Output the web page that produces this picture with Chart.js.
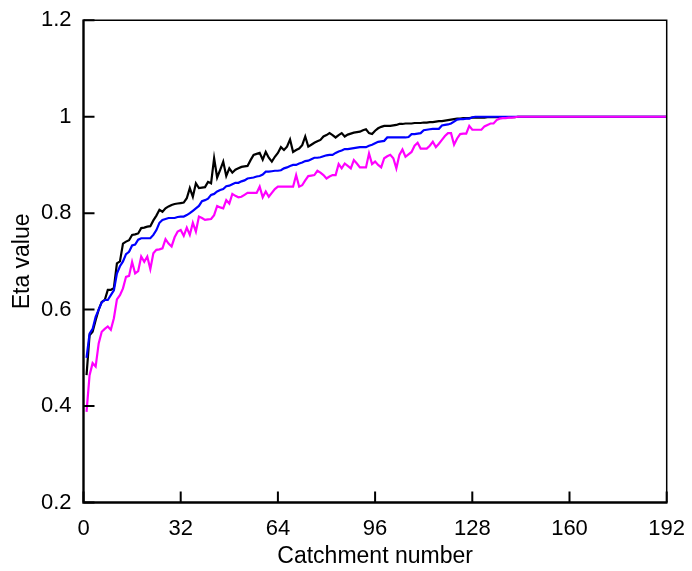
<!DOCTYPE html>
<html>
<head>
<meta charset="utf-8">
<script src="https://cdn.jsdelivr.net/npm/chart.js@4"></script>
<style>
html,body{margin:0;padding:0;background:#fff;}
#c{display:block;}
</style>
</head>
<body>
<canvas id="c" width="692" height="571"></canvas>
<script>
const xTicks = [0, 32, 64, 96, 128, 160, 192];
const yTicks = [0.2, 0.4, 0.6, 0.8, 1, 1.2];
const yTickLabels = ["0.2", "0.4", "0.6", "0.8", "1", "1.2"];
const xTitle = "Catchment number";
const yTitle = "Eta value";

const seriesBlack = [
0.464,0.547,0.554,0.578,0.600,0.616,0.620,0.641,0.641,0.645,
0.696,0.700,0.737,0.741,0.744,0.755,0.756,0.758,0.769,0.770,
0.772,0.773,0.785,0.795,0.807,0.803,0.810,0.814,0.817,0.819,
0.820,0.821,0.822,0.831,0.852,0.834,0.862,0.852,0.853,0.854,
0.865,0.862,0.914,0.874,0.890,0.907,0.877,0.893,0.884,0.890,
0.893,0.896,0.897,0.898,0.910,0.921,0.923,0.925,0.911,0.927,
0.915,0.907,0.917,0.925,0.937,0.931,0.938,0.953,0.927,0.931,
0.934,0.941,0.959,0.938,0.942,0.946,0.949,0.952,0.959,0.962,
0.966,0.962,0.957,0.962,0.966,0.959,0.963,0.965,0.967,0.968,
0.969,0.972,0.974,0.966,0.964,0.971,0.976,0.979,0.981,0.981,
0.981,0.982,0.983,0.985,0.985,0.986,0.986,0.986,0.987,0.987,
0.987,0.988,0.988,0.989,0.989,0.990,0.991,0.991,0.992,0.993,
0.994,0.995,0.996,0.996,0.997,0.997,0.997,0.998,0.998,0.998,
0.998,0.998,0.999,0.999,0.999,0.999,0.999,0.999,0.999,0.999,
0.999,0.999,
1,1,1,1,1,1,1,1,1,1,
1,1,1,1,1,1,1,1,1,1,
1,1,1,1,1,1,1,1,1,1,
1,1,1,1,1,1,1,1,1,1,
1,1,1,1,1,1,1,1,1,1
];

const seriesBlue = [
0.500,0.550,0.560,0.585,0.600,0.615,0.620,0.620,0.630,0.640,
0.675,0.690,0.700,0.715,0.720,0.733,0.735,0.745,0.748,0.748,
0.748,0.748,0.755,0.765,0.780,0.786,0.788,0.790,0.790,0.790,
0.792,0.793,0.793,0.796,0.800,0.805,0.810,0.815,0.825,0.827,
0.830,0.838,0.840,0.845,0.848,0.850,0.856,0.857,0.860,0.863,
0.863,0.866,0.868,0.872,0.873,0.874,0.876,0.877,0.880,0.886,
0.886,0.887,0.888,0.888,0.889,0.893,0.895,0.898,0.900,0.900,
0.903,0.905,0.908,0.909,0.912,0.915,0.915,0.916,0.918,0.920,
0.921,0.921,0.925,0.928,0.930,0.933,0.933,0.934,0.935,0.936,
0.937,0.937,0.937,0.940,0.942,0.945,0.948,0.949,0.950,0.957,
0.957,0.957,0.957,0.957,0.957,0.957,0.958,0.964,0.964,0.965,
0.966,0.972,0.973,0.974,0.975,0.975,0.975,0.982,0.983,0.984,
0.986,0.990,0.994,0.995,0.995,0.996,0.996,0.999,1,1,
1,1,1,1,1,1,1,1,1,1,
1,1,1,1,1,1,1,1,1,1,
1,1,1,1,1,1,1,1,1,1,
1,1,1,1,1,1,1,1,1,1,
1,1,1,1,1,1,1,1,1,1,
1,1,1,1,1,1,1,1,1,1,
1,1
];

const seriesMagenta = [
0.388,0.464,0.489,0.482,0.530,0.554,0.560,0.565,0.558,0.582,
0.621,0.630,0.644,0.668,0.670,0.699,0.675,0.680,0.710,0.699,
0.710,0.684,0.717,0.724,0.725,0.727,0.746,0.737,0.731,0.750,
0.762,0.765,0.753,0.770,0.755,0.780,0.762,0.793,0.790,0.786,
0.787,0.788,0.796,0.815,0.812,0.810,0.827,0.820,0.840,0.836,
0.833,0.834,0.838,0.842,0.842,0.842,0.842,0.855,0.833,0.845,
0.834,0.842,0.850,0.855,0.855,0.855,0.855,0.855,0.855,0.879,
0.855,0.858,0.868,0.877,0.878,0.879,0.888,0.884,0.879,0.872,
0.876,0.879,0.879,0.902,0.893,0.903,0.898,0.893,0.910,0.903,
0.895,0.895,0.895,0.924,0.902,0.907,0.900,0.895,0.914,0.918,
0.921,0.914,0.893,0.921,0.932,0.917,0.922,0.927,0.940,0.946,
0.934,0.934,0.934,0.940,0.948,0.937,0.944,0.952,0.960,0.966,
0.966,0.942,0.955,0.964,0.965,0.965,0.981,0.973,0.973,0.973,
0.973,0.980,0.983,0.986,0.986,0.993,0.996,0.997,0.997,0.998,
0.998,0.999,
1,1,1,1,1,1,1,1,1,1,
1,1,1,1,1,1,1,1,1,1,
1,1,1,1,1,1,1,1,1,1,
1,1,1,1,1,1,1,1,1,1,
1,1,1,1,1,1,1,1,1,1
];

function toPoints(arr){ return arr.map((v,i)=>({x:i+1, y:v})); }

const FONT = "'Liberation Sans', Arial, sans-serif";

const framePlugin = {
  id: 'frame',
  afterDatasetsDraw(chart){
    const {ctx, chartArea:a, scales} = chart;
    ctx.save();
    ctx.strokeStyle = '#000';
    ctx.lineCap = 'butt';
    ctx.lineWidth = 1.5;
    ctx.beginPath();
    ctx.moveTo(a.left, a.top); ctx.lineTo(a.right, a.top); ctx.lineTo(a.right, a.bottom);
    ctx.stroke();
    ctx.lineWidth = 2.4;
    ctx.beginPath();
    ctx.moveTo(a.left, a.top-0.8); ctx.lineTo(a.left, a.bottom); ctx.lineTo(a.right+0.8, a.bottom);
    ctx.stroke();
    ctx.lineWidth = 2;
    ctx.beginPath();
    yTicks.forEach(v=>{
      const py = scales.y.getPixelForValue(v);
      ctx.moveTo(a.left, py); ctx.lineTo(a.left+11, py);
    });
    xTicks.forEach(v=>{
      const px = scales.x.getPixelForValue(v);
      ctx.moveTo(px, a.bottom); ctx.lineTo(px, a.bottom-11);
    });
    ctx.stroke();
    ctx.restore();
  }
};

new Chart(document.getElementById('c'), {
  type: 'line',
  data: {
    datasets: [
      {label:'magenta', data: toPoints(seriesMagenta), borderColor:'#ff00ff', borderWidth:2.2, pointRadius:0, fill:false, tension:0},
      {label:'blue', data: toPoints(seriesBlue), borderColor:'#0000ff', borderWidth:2.2, pointRadius:0, fill:false, tension:0},
      {label:'black', data: toPoints(seriesBlack), borderColor:'#000000', borderWidth:2.2, pointRadius:0, fill:false, tension:0}
    ]
  },
  options: {
    responsive: false,
    animation: false,
    devicePixelRatio: 1,
    layout: { padding: { left: 0, right: 25.3, top: 20.3, bottom: 0 } },
    plugins: { legend: {display:false}, tooltip: {enabled:false} },
    scales: {
      x: {
        type: 'linear', min: 0, max: 192,
        afterBuildTicks(s){ s.ticks = xTicks.map(v=>({value:v})); },
        afterFit(s){ s.height = 68.5; s.paddingLeft = 0; s.paddingRight = 0; },
        grid: { display:false, drawTicks:false },
        border: { display:false },
        ticks: { color:'#000', font:{family:FONT, size:22, lineHeight:1}, padding:15, maxRotation:0, autoSkip:false,
          callback:(v)=> String(v) },
        title: { display:true, text:xTitle, color:'#000', font:{family:FONT, size:23, lineHeight:1}, padding:{top:0, bottom:3} }
      },
      y: {
        type: 'linear', min: 0.2, max: 1.2,
        afterBuildTicks(s){ s.ticks = yTicks.map(v=>({value:v})); },
        afterFit(s){ s.width = 83.5; s.paddingTop = 0; s.paddingBottom = 0; },
        grid: { display:false, drawTicks:false },
        border: { display:false },
        ticks: { color:'#000', font:{family:FONT, size:22}, padding:12, autoSkip:false,
          callback:(v, i)=> yTickLabels[i] },
        title: { display:true, text:yTitle, color:'#000', font:{family:FONT, size:23, lineHeight:1}, padding:{top:11, bottom:0} }
      }
    }
  },
  plugins: [framePlugin]
});
</script>
</body>
</html>
